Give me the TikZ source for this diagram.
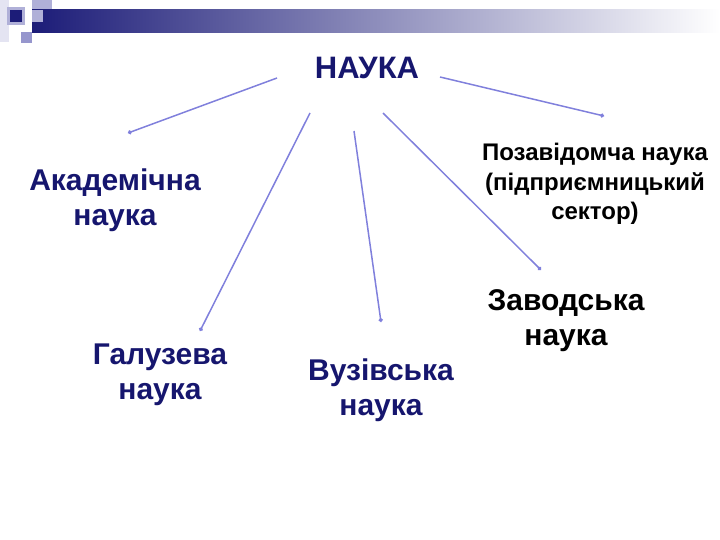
\documentclass[tikz,border=0pt]{standalone}
\usepackage{fontspec}
\setmainfont{Liberation Sans}
\usetikzlibrary{arrows.meta}
\definecolor{navyt}{RGB}{22,22,110}
\definecolor{linec}{RGB}{128,128,220}
\definecolor{barl}{RGB}{28,28,120}
\definecolor{barm}{RGB}{150,150,185}
\definecolor{lav}{RGB}{176,176,216}
\definecolor{lavd}{RGB}{150,150,205}
\definecolor{lavf}{RGB}{228,228,242}
\tikzset{
  lbl/.style={font=\bfseries\fontsize{30}{35}\selectfont, align=center, text=navyt, inner sep=0pt},
  lblk/.style={lbl, text=black},
  conn/.style={draw=linec, line width=1.5pt, -{Circle[length=4pt]}},
}
\begin{document}
\begin{tikzpicture}[x=1pt,y=-1pt]
\useasboundingbox (0,0) rectangle (720,540);
% header decoration
\fill[lavf] (0,0) rectangle (9,42);
\fill[lav] (32,0) rectangle (52,10);
\shade[left color=barl, middle color=barm, right color=white] (32,10) rectangle (720,33);
\fill[lav] (32,10) rectangle (43,22);
\fill[lav] (7,7) rectangle (25,25);
\fill[barl] (10,10) rectangle (22,22);
\fill[lavd] (21,32) rectangle (32,43);
% labels
\node[lbl, font=\bfseries\fontsize{31}{35}\selectfont] (nauka) at (367,68) {НАУКА};
\node[lbl] (akad) at (115,200) {Академічна\\наука};
\node[lblk, font=\bfseries\fontsize{24}{29.5}\selectfont] (poza) at (595,184) {Позавідомча наука\\(підприємницький\\сектор)};
\node[lblk] (zavod) at (566,321) {Заводська\\наука};
\node[lbl] (galuz) at (160,375) {Галузева\\наука};
\node[lbl] (vuz) at (381,390) {Вузівська\\наука};
% connector end points
\coordinate (s1) at (277,78);  \coordinate (e1) at (128,133);
\coordinate (s2) at (310,113); \coordinate (e2) at (200,331);
\coordinate (s3) at (354,131); \coordinate (e3) at (381,322);
\coordinate (s4) at (383,113); \coordinate (e4) at (541,270);
\coordinate (s5) at (440,77);  \coordinate (e5) at (604,116);
\draw[conn] (s1) -- (e1);
\draw[conn] (s2) -- (e2);
\draw[conn] (s3) -- (e3);
\draw[conn] (s4) -- (e4);
\draw[conn] (s5) -- (e5);
\end{tikzpicture}
\end{document}
